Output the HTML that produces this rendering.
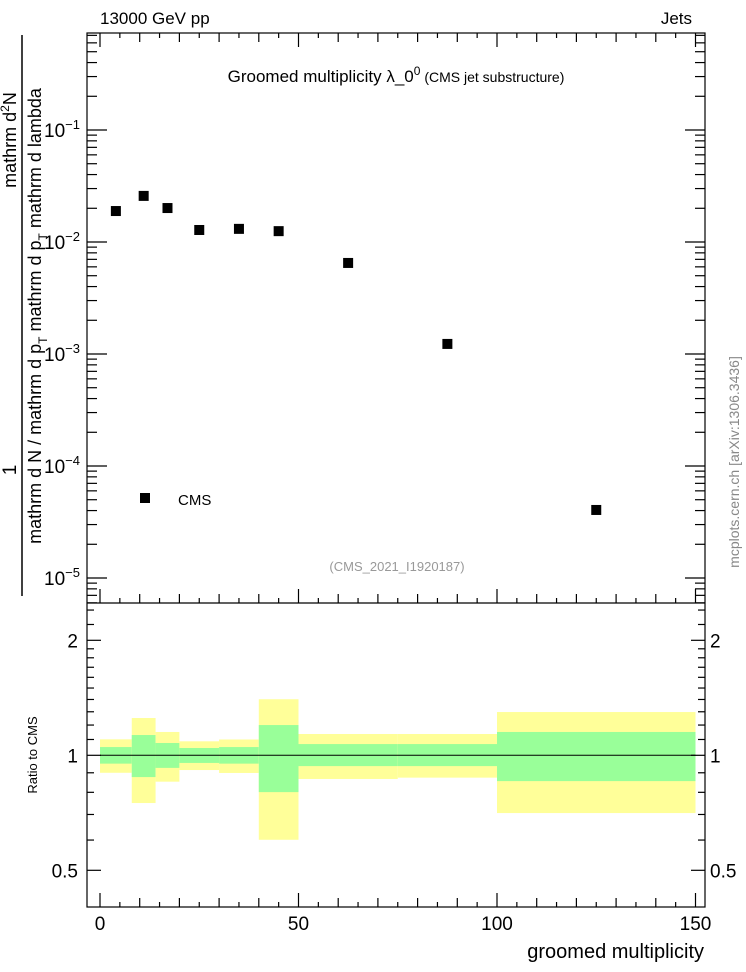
<!DOCTYPE html>
<html><head><meta charset="utf-8"><style>
html,body{margin:0;padding:0;background:#fff}
svg{display:block;font-family:"Liberation Sans",sans-serif}
</style></head><body>
<svg id="c" width="746" height="972" viewBox="0 0 746 972" xmlns="http://www.w3.org/2000/svg">
<g id="bands"></g><g id="axes"></g><g id="marks"></g>
<text x="100" y="24" font-size="17">13000 GeV pp</text>
<text x="692" y="24" font-size="17" text-anchor="end">Jets</text>
<text x="396" y="82" font-size="17" text-anchor="middle">Groomed multiplicity  λ_0<tspan dy="-7" font-size="12">0</tspan><tspan dy="7" font-size="14"> (CMS jet substructure)</tspan></text>
<text x="397" y="571" font-size="13" fill="#999" text-anchor="middle">(CMS_2021_I1920187)</text>
<rect x="140" y="493" width="10" height="10" fill="#000"/>
<text x="178" y="505" font-size="15">CMS</text>
<line x1="22" y1="35" x2="22" y2="596" stroke="#000" stroke-width="1.5"/>
<text transform="translate(16,470) rotate(-90)" font-size="19" text-anchor="middle">1</text>
<text transform="translate(16,140) rotate(-90)" font-size="18" text-anchor="middle">mathrm d<tspan dy="-7" font-size="12">2</tspan><tspan dy="7">N</tspan></text>
<text transform="translate(41,316) rotate(-90)" font-size="18" text-anchor="middle">mathrm d N / mathrm d p<tspan dy="6" font-size="12">T</tspan><tspan dy="-6"> mathrm d p</tspan><tspan dy="6" font-size="12">T</tspan><tspan dy="-6"> mathrm d lambda</tspan></text>
<text transform="translate(37,755) rotate(-90)" font-size="13" text-anchor="middle">Ratio to CMS</text>
<text x="704" y="958" font-size="20" text-anchor="end">groomed multiplicity</text>
<text transform="translate(739,462) rotate(-90)" font-size="14" fill="#888" text-anchor="middle">mcplots.cern.ch [arXiv:1306.3436]</text>
</svg>
<script>
const binEdges=[0,8,14,20,30,40,50,75,100,150];
const xCenters=[4,11,17,25,35,45,62.5,87.5,125];
const cmsValues=[0.0189,0.0258,0.0201,0.0128,0.0131,0.0125,0.0065,0.00123,0.0000405];
const yellowHi=[1.101,1.252,1.151,1.088,1.100,1.402,1.137,1.137,1.298];
const yellowLo=[0.900,0.750,0.853,0.915,0.899,0.601,0.867,0.874,0.706];
const greenHi=[1.051,1.130,1.077,1.045,1.051,1.200,1.070,1.070,1.151];
const greenLo=[0.951,0.877,0.927,0.955,0.951,0.801,0.937,0.937,0.856];
const xTicks=[0,50,100,150];
const mainDecades=[-1,-2,-3,-4,-5];
const ratioTicks=[0.5,1,2];
const ratioTickLabels=["0.5","1","2"];

const NS="http://www.w3.org/2000/svg";
const L=87,R=705,T=33,MID=603,B=907;
const xs=v=>100+v*3.97;
const ys=v=>130+(-1-Math.log10(v))*112;
const yr=r=>755.3-Math.log2(r)*115;
function mk(p,tag,at){const e=document.createElementNS(NS,tag);for(const k in at)e.setAttribute(k,at[k]);p.appendChild(e);return e;}
const bands=document.getElementById('bands'),axes=document.getElementById('axes'),marks=document.getElementById('marks');
for(let i=0;i<cmsValues.length;i++){
  const x0=xs(binEdges[i]),x1=xs(binEdges[i+1]);
  const yb=mk(bands,'rect',{x:x0,y:yr(yellowHi[i]),width:x1-x0,height:yr(yellowLo[i])-yr(yellowHi[i]),fill:'#ffff99'});
  
  
  const g=mk(bands,'rect',{x:x0,y:yr(greenHi[i]),width:x1-x0,height:yr(greenLo[i])-yr(greenHi[i]),fill:'#99ff99'});
  
  
  const m=mk(marks,'rect',{x:xs(xCenters[i])-5,y:ys(cmsValues[i])-5,width:10,height:10,fill:'#000'});
  
  
}
const one=mk(axes,'line',{x1:xs(0),x2:xs(150),y1:yr(1),y2:yr(1),stroke:'#000','stroke-width':1});


const st={stroke:'#000','stroke-width':1.2,fill:'none'};
mk(axes,'rect',Object.assign({x:L,y:T,width:R-L,height:B-T},st));
mk(axes,'line',Object.assign({x1:L,x2:R,y1:MID,y2:MID},st));
for(let v=0;v<=150;v+=5){
  const x=xs(v),len=v%50===0?14:(v%10===0?9:5);
  [MID,B].forEach(yb=>{mk(axes,'line',Object.assign({x1:x,x2:x,y1:yb,y2:yb-len},st));});
  mk(axes,'line',Object.assign({x1:x,x2:x,y1:T,y2:T+len},st));
}
xTicks.forEach(v=>{const t=mk(axes,'text',{x:xs(v),y:930,'font-size':19,'text-anchor':'middle'});t.textContent=v;

});
for(let d=-6;d<=0;d++){for(let k=1;k<10;k++){const v=k*Math.pow(10,d),y=ys(v);if(y<T||y>MID)continue;
  const len=k===1?20:10;
  mk(axes,'line',Object.assign({x1:L,x2:L+len,y1:y,y2:y},st));mk(axes,'line',Object.assign({x1:R,x2:R-len,y1:y,y2:y},st));}}
mainDecades.forEach(d=>{const t=mk(axes,'text',{x:80,y:ys(Math.pow(10,d))+7,'font-size':19,'text-anchor':'end'});
t.textContent='10';
const sp=mk(t,'tspan',{dy:-8,'font-size':13});sp.textContent='−'+Math.abs(d);

});
[0.4,0.5,0.6,0.7,0.8,0.9,1,1.1,1.2,1.3,1.4,1.5,1.6,1.7,1.8,1.9,2,2.2,2.4].forEach(r=>{const y=yr(r);if(y<MID||y>B)return;
  const len=ratioTicks.includes(r)?14:7;
  mk(axes,'line',Object.assign({x1:L,x2:L+len,y1:y,y2:y},st));mk(axes,'line',Object.assign({x1:R,x2:R-len,y1:y,y2:y},st));});
ratioTicks.forEach((r,i)=>{
  const a=mk(axes,'text',{x:78,y:yr(r)+7,'font-size':19,'text-anchor':'end'});a.textContent=ratioTickLabels[i];
  
  
  const b=mk(axes,'text',{x:710,y:yr(r)+7,'font-size':19});b.textContent=ratioTickLabels[i];
  
  
});
</script>
</body></html>
